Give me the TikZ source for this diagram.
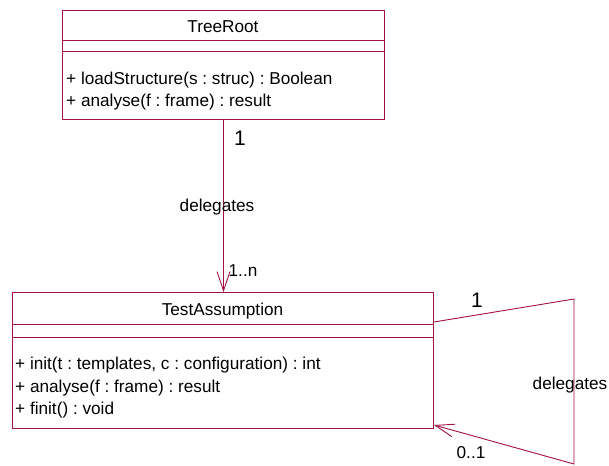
\documentclass[tikz,border=0pt]{standalone}
\usepackage{fontspec}
\setmainfont{Liberation Sans}
\usetikzlibrary{arrows.meta}
\definecolor{umlred}{RGB}{165,15,70}
\frenchspacing
\begin{document}
\begin{tikzpicture}[x=1pt,y=-1pt,
  every node/.style={font=\fontsize{17.2}{20}\selectfont, inner sep=0pt},
  umlbox/.style={draw=umlred, line width=1pt, rectangle, anchor=north west},
  sep/.style={draw=umlred, line width=1pt},
  conn/.style={draw=umlred, line width=0.9pt},
  openarr/.style={-{Straight Barb[length=19pt,width=13pt,line width=0.9pt]}},
  meth/.style={anchor=base west},
  lab/.style={anchor=center},
  biglab/.style={anchor=center, font=\fontsize{21}{24}\selectfont}]
\useasboundingbox (0,0) rectangle (609,465);
% TreeRoot
\node[umlbox, minimum width=322pt, minimum height=109pt] (tr) at (62,10) {};
\draw[sep] ([yshift=-31pt]tr.north west) -- ([yshift=-31pt]tr.north east);
\draw[sep] ([yshift=-42pt]tr.north west) -- ([yshift=-42pt]tr.north east);
\node[anchor=base] (trtitle) at (223,33) {TreeRoot};
\node[meth] (trm1) at (66,85) {+ loadStructure(s : struc) : Boolean};
\node[meth] (trm2) at (66,107) {+ analyse(f : frame) : result};
% TestAssumption
\node[umlbox, minimum width=421pt, minimum height=136pt] (ta) at (12,292) {};
\draw[sep] ([yshift=-32pt]ta.north west) -- ([yshift=-32pt]ta.north east);
\draw[sep] ([yshift=-45pt]ta.north west) -- ([yshift=-45pt]ta.north east);
\node[anchor=base] (tatitle) at (222.5,315) {TestAssumption};
\node[meth] (tam1) at (15,369) {+ init(t : templates, c : configuration) : int};
\node[meth] (tam2) at (15,392) {+ analyse(f : frame) : result};
\node[meth] (tam3) at (15,414) {+ finit() : void};
% association TreeRoot -> TestAssumption
\draw[conn, openarr] (tr.south) -- (tr.south |- ta.north);
\node[biglab] (m1) at (240,138) {1};
\node[lab] (d1) at (217,207) {delegates};
\node[lab] (mn) at (243,271) {1..n};
% self association
\coordinate (s0) at ([yshift=-30pt]ta.north east);
\coordinate (p1) at (574,299);
\coordinate (p2) at (574,464);
\coordinate (s1) at ([yshift=4pt]ta.south east);
\draw[conn, openarr] (s0) -- (p1) -- (p2) -- (s1);
\node[biglab] (m2) at (477,300) {1};
\node[lab] (d2) at (570,385) {delegates};
\node[lab] (m3) at (471,453) {0..1};
\end{tikzpicture}
\end{document}
